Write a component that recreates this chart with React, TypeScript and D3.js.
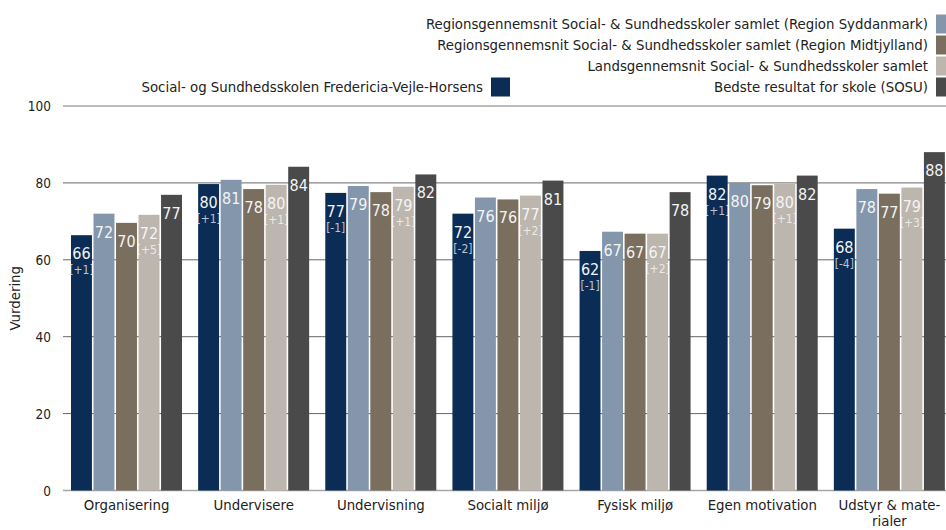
import React, { useEffect, useRef } from 'react';
import * as d3 from 'd3';

const categories = ['Organisering', 'Undervisere', 'Undervisning', 'Socialt miljø', 'Fysisk miljø', 'Egen motivation', 'Udstyr & mate-|rialer'];
const seriesNames = [
  'Social- og Sundhedsskolen Fredericia-Vejle-Horsens',
  'Regionsgennemsnit Social- & Sundhedsskoler samlet (Region Syddanmark)',
  'Regionsgennemsnit Social- & Sundhedsskoler samlet (Region Midtjylland)',
  'Landsgennemsnit Social- & Sundhedsskoler samlet',
  'Bedste resultat for skole (SOSU)',
];
const colors = ['#0b2d55', '#8396ac', '#7a6e5e', '#bdb6ae', '#4a4a4a'];

const school = [66.4, 79.7, 77.4, 72.0, 62.3, 81.9, 68.1];
const syd = [72.0, 80.8, 79.2, 76.2, 67.3, 80.0, 78.4];
const midt = [69.6, 78.4, 77.6, 75.7, 66.8, 79.4, 77.2];
const land = [71.7, 79.5, 79.0, 76.7, 66.8, 79.8, 78.8];
const best = [76.9, 84.2, 82.2, 80.6, 77.6, 81.9, 88.0];
const schoolDiff = ['+1', '+1', '-1', '-2', '-1', '+1', '-4'];
const landDiff = ['+5', '+1', '+1', '+2', '+2', '+1', '+3'];
const yTicks = [0, 20, 40, 60, 80, 100];

const FONT = '"DejaVu Sans Condensed", "DejaVu Sans", sans-serif';

export default function App() {
  const svgRef = useRef<SVGSVGElement>(null);

  useEffect(() => {
    const svg = d3.select(svgRef.current);
    svg.selectAll('*').remove();
    const allSeries = [school, syd, midt, land, best];
    const diffs: (string[] | null)[] = [schoolDiff, null, null, landDiff, null];

    const x0 = d3.scaleBand().domain(categories).range([63, 953]).padding(0);
    const x1 = d3.scaleBand<number>().domain([0, 1, 2, 3, 4]).range([8, 119]).paddingInner(0.07);
    const y = d3.scaleLinear().domain([0, 100]).range([490.5, 106]);

    // gridlines
    svg.append('g')
      .selectAll('line')
      .data(yTicks)
      .join('line')
      .attr('x1', 63).attr('x2', 946)
      .attr('y1', d => y(d)).attr('y2', d => y(d))
      .attr('stroke', d => (d === 0 || d === 100 ? '#a6a6a6' : '#666'))
      .attr('stroke-width', d => (d === 0 || d === 100 ? 1.6 : 1));

    // y tick labels
    svg.append('g')
      .selectAll('text')
      .data(yTicks)
      .join('text')
      .attr('x', 51).attr('y', d => y(d) + 5)
      .attr('text-anchor', 'end')
      .attr('font-size', 13.5)
      .attr('fill', '#222')
      .text(d => d);

    svg.append('text')
      .attr('transform', `translate(20, ${y(50)}) rotate(-90)`)
      .attr('text-anchor', 'middle')
      .attr('font-size', 14.8)
      .attr('fill', '#222')
      .text('Vurdering');

    // bars
    const groups = svg.append('g')
      .selectAll('g')
      .data(categories)
      .join('g')
      .attr('transform', d => `translate(${x0(d)},0)`);

    groups.each(function (cat, ci) {
      const g = d3.select(this);
      allSeries.forEach((vals, si) => {
        const v = vals[ci];
        const bx = x1(si)!;
        const bw = x1.bandwidth();
        g.append('rect')
          .attr('x', bx).attr('width', bw)
          .attr('y', y(v)).attr('height', y(0) - y(v))
          .attr('fill', colors[si]);
        g.append('text')
          .attr('x', bx + bw / 2).attr('y', y(v) + 24)
          .attr('text-anchor', 'middle')
          .attr('font-size', 16)
          .attr('fill', '#f4f4f4')
          .text(d3.format('.0f')(v));
        const dd = diffs[si];
        if (dd) {
          g.append('text')
            .attr('x', bx + bw / 2).attr('y', y(v) + 39)
            .attr('text-anchor', 'middle')
            .attr('font-size', 12)
            .attr('fill', '#ffffff')
            .attr('fill-opacity', 0.72)
            .text(`[${dd[ci]}]`);
        }
      });
      const lines = cat.split('|');
      g.append('text')
        .attr('text-anchor', 'middle')
        .attr('font-size', 14.8)
        .attr('fill', '#222')
        .selectAll('tspan')
        .data(lines)
        .join('tspan')
        .attr('x', x0.bandwidth() / 2)
        .attr('y', (d, i) => 510 + i * 16)
        .text(d => d);
    });

    // legend
    const rows = [
      { s: 1, right: 928, row: 0 },
      { s: 2, right: 928, row: 1 },
      { s: 3, right: 928, row: 2 },
      { s: 4, right: 928, row: 3 },
      { s: 0, right: 483, row: 3 },
    ];
    const leg = svg.append('g');
    rows.forEach(r => {
      const cy = 24 + r.row * 21;
      leg.append('text')
        .attr('x', r.right).attr('y', cy + 5)
        .attr('text-anchor', 'end')
        .attr('font-size', 14.8)
        .attr('fill', '#222')
        .text(seriesNames[r.s]);
      leg.append('rect')
        .attr('x', r.right + 8).attr('y', cy - 9.5)
        .attr('width', 19).attr('height', 19)
        .attr('fill', colors[r.s]);
    });
  }, []);

  return (
    <svg
      ref={svgRef}
      width={946}
      height={530}
      style={{ position: 'absolute', left: 0, top: 0, fontFamily: FONT, background: '#fff' }}
    />
  );
}
